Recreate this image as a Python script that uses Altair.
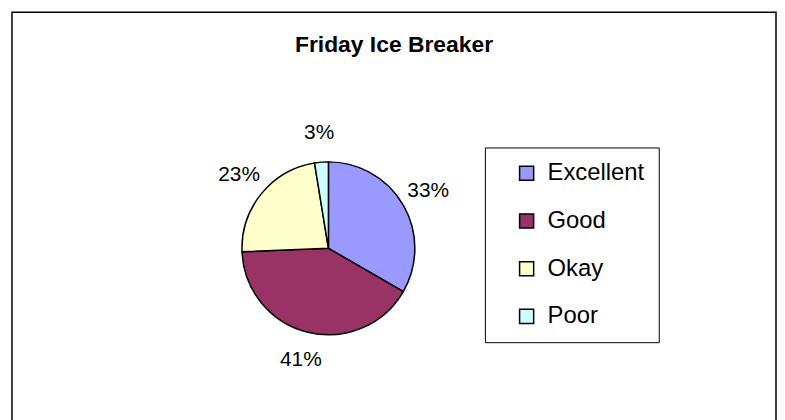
import altair as alt
import pandas as pd

categories = ["Excellent", "Good", "Okay", "Poor"]
counts = [13, 16, 9, 1]
labels = ["33%", "41%", "23%", "3%"]
colors = ["#9999FF", "#993366", "#FFFFCC", "#CCFFFF"]

df = pd.DataFrame({
    "category": categories,
    "count": counts,
    "label": labels,
    "order": list(range(len(categories))),
})
frame_df = pd.DataFrame({"frame": [0]})

CX, CY = 318.5, 237.5
FONT = "Liberation Sans"
W, H = 769, 420

frame = alt.Chart(frame_df).mark_rect(
    fill="white", stroke="black", strokeWidth=1.5
).encode(
    x=alt.value(0), x2=alt.value(W), y=alt.value(0), y2=alt.value(H)
)

base = alt.Chart(df).encode(
    theta=alt.Theta("count:Q", stack=True),
    order=alt.Order("order:Q"),
)

pie = base.mark_arc(outerRadius=87, stroke="black", strokeWidth=1.5, x=CX, y=CY).encode(
    color=alt.Color(
        "category:N",
        sort=categories,
        scale=alt.Scale(domain=categories, range=colors),
        legend=alt.Legend(
            title=None,
            orient="none",
            legendX=476,
            legendY=136,
            symbolType="square",
            symbolSize=200,
            symbolStrokeColor="black",
            symbolStrokeWidth=1.5,
            labelFont=FONT,
            labelFontSize=24,
            labelColor="black",
            labelOffset=9,
            padding=14,
            symbolOffset=16,
            rowPadding=24,
            strokeColor="black",
            fillColor="white",
        ),
    )
)

text = base.mark_text(radius=116, fontSize=21, font=FONT, color="black", x=CX, y=CY).encode(
    text="label:N"
)

chart = (
    alt.layer(frame, pie, text)
    .properties(
        width=W,
        height=H,
        padding={"left": 3, "top": 2, "right": 0, "bottom": 0},
        title=alt.Title(
            "Friday Ice Breaker",
            font=FONT,
            fontSize=23,
            fontWeight="bold",
            color="black",
            anchor="middle",
            offset=-46,
        ),
        background="white",
    )
    .configure_view(stroke=None)
)

chart.save("out.html", embed_options={"renderer": "svg", "actions": False})
